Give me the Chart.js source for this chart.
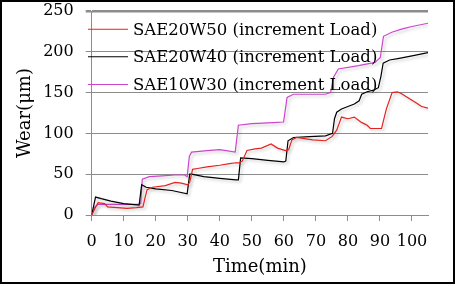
<!DOCTYPE html>
<html>
<head>
<meta charset="utf-8">
<script src="https://cdn.jsdelivr.net/npm/chart.js@4/dist/chart.umd.min.js"></script>
<style>
	html, body { margin: 0; padding: 0; background: #fff; }
	#frame {
		position: absolute; left: 0; top: 0;
		width: 455px; height: 284px;
		box-sizing: border-box;
		border: 2px solid #000;
		background: #fff;
	}
	#wearChart { display: block; }
</style>
</head>
<body>
<div id="frame"><canvas id="wearChart" width="451" height="280"></canvas></div>
<script>
// series names
const seriesNames = [
	'SAE20W50 (increment Load)',
	'SAE20W40 (increment Load)',
	'SAE10W30 (increment Load)',
];
const seriesColors = ['#e3231f', '#000000', '#cc44cc'];

// SAE20W50 - time (min) / wear (um)
const w50Time = [0, 1, 2, 4, 5, 8, 11, 14, 16, 16.7, 17.3, 19, 23, 26, 28, 30, 30.6, 31.5, 33, 36, 40, 43, 45, 46, 47, 48.5, 51, 53, 56, 58, 60.5, 61.5, 62.5, 64, 69, 73, 75, 76.5, 78, 80, 82, 84, 85, 86, 87, 90.5, 92, 93.8, 95.5, 97, 99, 101.5, 103, 105];
const w50Wear = [0, 8, 15, 14, 10, 9, 8, 9, 10, 22, 31, 34, 36, 40, 39, 37, 40, 56, 57, 59, 61, 63, 64, 64, 66, 79, 81, 82, 87, 82, 79, 80, 92, 95, 92, 91, 96, 104, 120, 118, 120, 114, 112, 110, 106, 106, 130, 150, 151, 148, 143, 137, 133, 131];

// SAE20W40
const w40Time = [0, 1.2, 3, 6, 10, 14.8, 15.6, 17, 20, 25, 29.8, 30.6, 31.2, 35, 40, 45, 45.8, 46.5, 50, 55, 60, 60.6, 61.3, 63, 68, 73, 75.2, 75.8, 76.5, 78, 80, 82, 83.5, 84.3, 86, 88, 89.5, 90.3, 91, 93, 96, 100, 105];
const w40Wear = [0, 22, 20, 17, 14, 12, 37, 34, 32, 30, 26, 50, 50, 47, 45, 43, 43, 70, 69, 67, 65, 66, 91, 95, 96, 97, 100, 118, 126, 130, 133, 136, 140, 148, 151, 153, 156, 170, 186, 190, 192, 195, 199];

// SAE10W30
const w30Time = [0, 1, 2, 5, 10, 14.5, 15.3, 15.8, 18, 22, 26, 29, 29.8, 30.5, 31.2, 36, 40, 44.8, 45.8, 50, 55, 59.9, 61, 63, 68, 72.9, 74.6, 75.5, 77, 83.3, 88.5, 90.1, 91.1, 93.7, 97, 100, 105];
const w30Wear = [0, 10, 13, 13, 13, 13, 14, 44, 47, 48, 49, 49, 47, 72, 77, 79, 80, 77, 110, 112, 113, 114, 144, 148, 148, 148, 150, 169, 179, 183, 187, 193, 219, 224, 228, 231, 235];

// axis ranges
const timeRange = [0, 105];
const wearRange = [0, 250];

const toPoints = (xs, ys) => xs.map((x, i) => ({ x: x, y: ys[i] }));
const seriesData = [
	toPoints(w50Time, w50Wear),
	toPoints(w40Time, w40Wear),
	toPoints(w30Time, w30Wear),
];

const serif = 'DejaVu Serif';

// soft drop shadow under the lines, like the office chart
const lineShadow = {
	id: 'lineShadow',
	beforeDatasetDraw (chart) {
		const ctx = chart.ctx;
		ctx.save();
		ctx.shadowColor = 'rgba(0,0,0,0.22)';
		ctx.shadowBlur = 3;
		ctx.shadowOffsetX = 2;
		ctx.shadowOffsetY = 2;
	},
	afterDatasetDraw (chart) {
		chart.ctx.restore();
	},
};

// legend drawn over the plot, top left
const innerLegend = {
	id: 'innerLegend',
	afterDatasetsDraw (chart) {
		const ctx = chart.ctx;
		const rows = [27.3, 54.7, 82.5];
		ctx.save();
		ctx.font = '16.5px "' + serif + '"';
		ctx.textBaseline = 'middle';
		ctx.fillStyle = '#000';
		chart.data.datasets.forEach((ds, i) => {
			ctx.strokeStyle = ds.borderColor;
			ctx.lineWidth = 1.1;
			ctx.beginPath();
			ctx.moveTo(86, rows[i]);
			ctx.lineTo(126, rows[i]);
			ctx.stroke();
			ctx.fillText(ds.label, 131, rows[i] + 1);
		});
		ctx.restore();
	},
};

const ctx = document.getElementById('wearChart').getContext('2d');
new Chart(ctx, {
	type: 'line',
	data: {
		datasets: seriesNames.map((name, i) => ({
			label: name,
			data: seriesData[i],
			borderColor: seriesColors[i],
			backgroundColor: seriesColors[i],
			borderWidth: 1.2,
			pointRadius: 0,
			tension: 0,
			fill: false,
		})),
	},
	options: {
		responsive: false,
		animation: false,
		devicePixelRatio: 1,
		layout: { padding: { top: 9, right: 25, bottom: 0, left: 0 } },
		plugins: {
			legend: { display: false },
			tooltip: { enabled: false },
		},
		scales: {
			x: {
				type: 'linear',
				min: timeRange[0],
				max: timeRange[1],
				afterFit (scale) { scale.height = 67; },
				ticks: {
					stepSize: 10,
					includeBounds: false,
					padding: 11,
					maxRotation: 0,
					color: '#000',
					font: { family: serif, size: 16 },
				},
				grid: {
					drawOnChartArea: false,
					drawTicks: true,
					tickLength: 6,
					color: '#8c8c8c',
				},
				border: { color: '#8c8c8c', width: 1 },
				title: {
					display: true,
					text: 'Time(min)',
					color: '#000',
					font: { family: serif, size: 18, lineHeight: 1.2 },
					padding: { top: 0, bottom: 3.5 },
				},
			},
			y: {
				min: wearRange[0],
				max: wearRange[1],
				afterFit (scale) {
					scale.width = 89.7;
					// keep the plot top where the reference has it
					scale.paddingTop = 0;
					scale.paddingBottom = 0;
				},
				ticks: {
					stepSize: 50,
					padding: 12,
					color: '#000',
					font: { family: serif, size: 16 },
				},
				grid: {
					tickLength: 6,
					color: '#8c8c8c',
					lineWidth: (c) => (c.tick && c.tick.value === wearRange[1] ? 2.5 : 1),
				},
				border: { color: '#8c8c8c', width: 1 },
				title: {
					display: true,
					text: 'Wear(μm)',
					color: '#000',
					font: { family: serif, size: 18, lineHeight: 1.2 },
					padding: { top: 13, bottom: 0 },
				},
			},
		},
	},
	plugins: [lineShadow, innerLegend],
});
</script>
</body>
</html>
